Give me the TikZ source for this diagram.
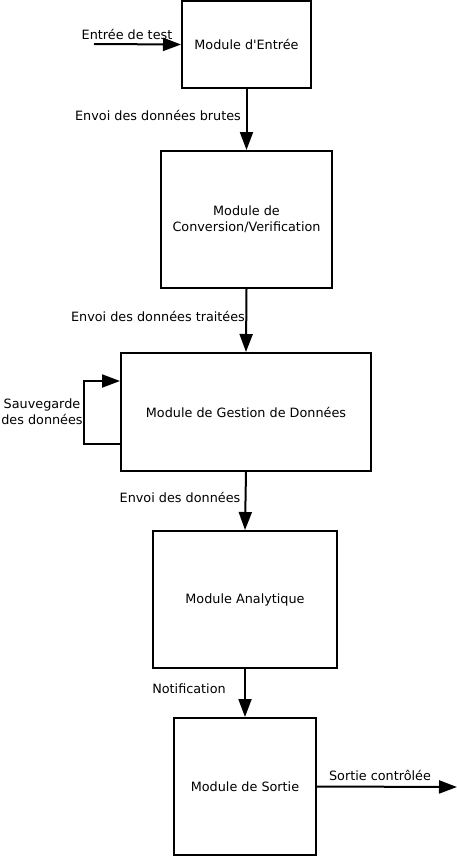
\documentclass[tikz,border=0pt]{standalone}
\usepackage{fontspec}
\setmainfont{DejaVu Sans}[Ligatures=TeXReset]
\usetikzlibrary{arrows.meta}
\begin{document}
\begin{tikzpicture}[
        x=0.75pt, y=-0.75pt,
        module/.style={draw, line width=1.5pt, inner sep=0pt, align=center, font=\fontsize{9.6}{12}\selectfont},
        lbl/.style={font=\fontsize{9.6}{12}\selectfont, align=center, inner sep=1pt},
        arrow/.style={-{Triangle[length=13.5pt, width=9.75pt]}, line width=1.5pt}
    ]
        \useasboundingbox (0,0) rectangle (457,857);

        % Modules
        \node[module, minimum width=96.75pt, minimum height=65.25pt] (entree) at (246.5, 44.5) {Module d'Entrée};
        \node[module, minimum width=128.25pt, minimum height=102.75pt] (conv) at (246.5, 219.5) {Module de\\Conversion/Verification};
        \node[module, minimum width=187.5pt, minimum height=88.5pt] (gestion) at (246, 412) {Module de Gestion de Données};
        \node[module, minimum width=138pt, minimum height=102.75pt] (analyt) at (245, 599.5) {Module Analytique};
        \node[module, minimum width=106.5pt, minimum height=102.75pt] (sortie) at (245, 786.5) {Module de Sortie};

        % Entrée / sortie
        \coordinate (test) at (94, 44);
        \coordinate (fin) at (457, 787);
        \draw[arrow] (test) -- (entree.west);
        \draw[arrow] (sortie.east) -- (fin);

        % Flux principal
        \draw[arrow] (entree.south) -- (conv.north);
        \draw[arrow] (conv.south) -- (gestion.north);
        \draw[arrow] (gestion.south) -- (analyt.north);
        \draw[arrow] (analyt.south) -- (sortie.north);

        % Sauvegarde
        \coordinate (boucleA) at ([yshift=21pt]gestion.south west);
        \coordinate (boucleB) at ([yshift=-21.75pt]gestion.north west);
        \draw[arrow] (boucleA) -- ++(-36,0) |- (boucleB);

        % Libellés
        \node[lbl] (ltest) at (127, 34) {Entrée de test};
        \node[lbl] (lbrutes) at (158, 115) {Envoi des données brutes};
        \node[lbl] (ltraitees) at (158, 316) {Envoi des données traitées};
        \node[lbl] (lenvoi) at (180, 497) {Envoi des données};
        \node[lbl] (lnotif) at (189, 689) {Notification};
        \node[lbl] (lsortie) at (380, 775) {Sortie contrôlée};
        \node[lbl] (lsauv) at (42, 412) {Sauvegarde\\des données};
    \end{tikzpicture}
\end{document}
